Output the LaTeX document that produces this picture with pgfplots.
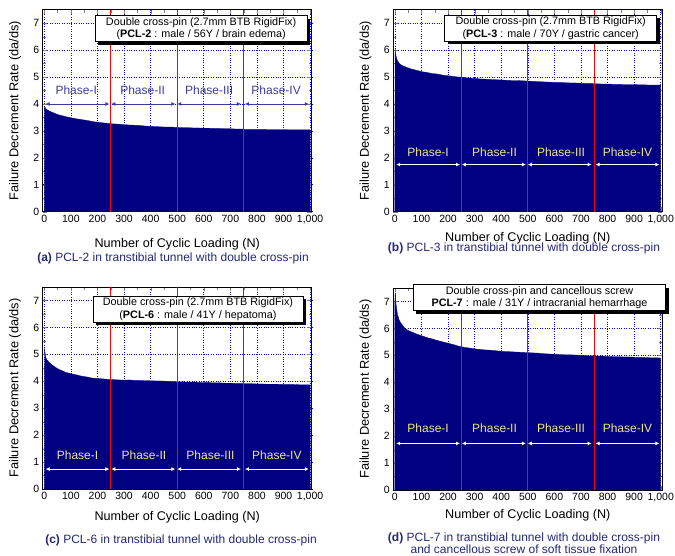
\documentclass[border=0pt]{standalone}
\usepackage{fontspec}
\setmainfont{Liberation Sans}
\usepackage{pgfplots}
\pgfplotsset{compat=1.18}
\usepackage{pgfplotstable}
\usetikzlibrary{arrows.meta,shadows}

\definecolor{fillnavy}{RGB}{0,0,128}
\definecolor{capblue}{RGB}{35,40,120}
\definecolor{phblue}{RGB}{60,60,150}
\definecolor{phyellow}{RGB}{240,230,140}

% x = cycle number, a..d = panels (a) to (d)
\pgfplotstableread{
x    a    b    c    d
0    3.92 2.80 2.30 7.00
1    3.92 6.05 5.22 7.30
2    3.90 5.95 5.15 7.25
3    3.87 5.87 5.05 7.05
4    3.85 5.80 4.98 6.92
5    3.83 5.75 4.92 6.85
7    3.81 5.68 4.85 6.70
10   3.79 5.60 4.79 6.50
13   3.77 5.56 4.77 6.42
16   3.76 5.51 4.73 6.31
20   3.73 5.48 4.69 6.24
25   3.71 5.44 4.64 6.16
30   3.69 5.42 4.60 6.10
35   3.67 5.39 4.57 6.03
40   3.65 5.38 4.53 5.99
45   3.63 5.35 4.50 5.95
50   3.61 5.34 4.47 5.93
60   3.58 5.30 4.42 5.88
70   3.56 5.28 4.38 5.84
80   3.53 5.25 4.33 5.80
90   3.51 5.23 4.31 5.76
100  3.49 5.20 4.28 5.73
120  3.45 5.17 4.24 5.66
140  3.42 5.13 4.19 5.61
160  3.39 5.11 4.16 5.55
180  3.35 5.07 4.12 5.50
200  3.32 5.05 4.10 5.45
220  3.30 5.02 4.09 5.40
240  3.28 5.00 4.07 5.34
260  3.26 4.98 4.06 5.30
280  3.25 4.96 4.05 5.27
300  3.23 4.95 4.04 5.24
320  3.22 4.93 4.05 5.22
340  3.21 4.92 4.03 5.20
360  3.20 4.91 4.03 5.19
380  3.18 4.90 4.02 5.17
400  3.17 4.89 4.02 5.15
420  3.16 4.88 4.01 5.14
440  3.15 4.87 4.01 5.13
460  3.14 4.87 4.00 5.12
480  3.14 4.86 3.99 5.11
500  3.13 4.85 3.98 5.10
520  3.12 4.84 3.98 5.09
540  3.12 4.83 3.97 5.08
560  3.11 4.82 3.97 5.06
580  3.11 4.81 3.96 5.05
600  3.10 4.80 3.95 5.04
620  3.10 4.80 3.95 5.03
640  3.09 4.79 3.94 5.02
660  3.09 4.78 3.94 5.02
680  3.08 4.78 3.93 5.01
700  3.08 4.77 3.93 5.00
720  3.07 4.76 3.92 4.99
740  3.07 4.76 3.92 4.98
748  3.07 4.75 3.92 4.98
750  2.90 4.75 3.91 4.97
752  3.06 4.75 3.91 4.97
760  3.06 4.75 3.91 4.97
780  3.06 4.74 3.91 4.97
800  3.06 4.74 3.90 4.96
820  3.06 4.73 3.90 4.95
840  3.05 4.73 3.89 4.95
860  3.05 4.72 3.89 4.94
880  3.05 4.72 3.89 4.94
900  3.05 4.72 3.88 4.93
920  3.04 4.71 3.88 4.92
940  3.04 4.71 3.88 4.92
960  3.04 4.70 3.87 4.91
980  3.04 4.70 3.87 4.91
1000 3.04 4.70 3.87 4.90
}\datatable

\pgfplotsset{
  panel/.style={
    scale only axis, width=269pt, height=202pt,
    xmin=-6, xmax=1006, ymin=0, ymax=7.5,
    xtick={0,100,...,1000}, ytick={0,1,...,7},
    minor x tick num=1, minor y tick num=1,
    tick align=inside,
    grid=major, grid style={blue, dotted, line width=0.6pt},
    axis line style={line width=0.9pt},
    tick label style={font=\fontsize{10.5}{12}\selectfont},
    /pgf/number format/assume math mode=true,
    /pgf/number format/1000 sep={,},
    xlabel={Number of Cyclic Loading (N)},
    ylabel={Failure Decrement Rate (da/ds)},
    ylabel style={font=\fontsize{12.8}{14}\selectfont, at={(axis description cs:-0.103,0.5)}, anchor=center},
    clip=false,
  },
  xlab/.style={xlabel style={font=\fontsize{12.6}{14}\selectfont, at={(axis description cs:0.5,#1)}, anchor=center}},
}
\tikzset{
  ph/.style={{Latex[length=4pt,width=4pt]}-{Latex[length=4pt,width=4pt]}, line width=0.9pt},
  phtext/.style={font=\fontsize{12}{14}\selectfont},
  infobox/.style={draw=black, fill=white, line width=0.8pt, align=center,
    inner sep=1pt, minimum height=26pt, font=\fontsize{10.8}{12.3}\selectfont,
    drop shadow={shadow xshift=3pt, shadow yshift=-3pt, fill=black, opacity=1}},
  caption/.style={text=capblue, font=\fontsize{12}{12}\selectfont, align=center},
}
% red phase boundaries as thin filled strips
\newcommand{\phaselines}{%
  \fill[red] (axis cs:248,0) rectangle (axis cs:252,7.5);
  \fill[red] (axis cs:498,0) rectangle (axis cs:502,7.5);
  \fill[red] (axis cs:748,0) rectangle (axis cs:752,7.5);
}

\begin{document}
\begin{tikzpicture}
\useasboundingbox (0pt,0pt) rectangle (675pt,555pt);

% (a)
\begin{axis}[panel, xlab=-0.163, at={(42.7pt,343.3pt)}, anchor=south west]
\addplot[fill=fillnavy, draw=fillnavy, line width=0.3pt] table[x=x, y=a] {\datatable} \closedcycle;
\phaselines
\draw[ph, phblue] (axis cs:5,4) -- (axis cs:245,4);
\draw[ph, phblue] (axis cs:252,4) -- (axis cs:493,4);
\draw[ph, phblue] (axis cs:500,4) -- (axis cs:740,4);
\draw[ph, phblue] (axis cs:755,4) -- (axis cs:995,4);
\node[phtext, text=phblue] at (axis cs:120,4.5) {Phase-I};
\node[phtext, text=phblue] at (axis cs:370,4.5) {Phase-II};
\node[phtext, text=phblue] at (axis cs:620,4.5) {Phase-III};
\node[phtext, text=phblue] at (axis cs:872,4.5) {Phase-IV};
\node[infobox, minimum width=212pt] at (axis cs:590,6.79)
  {Double cross-pin (2.7mm BTB RigidFix)\\(\textbf{PCL-2} : male / 56Y / brain edema)};
\end{axis}

% (b)
\begin{axis}[panel, xlab=-0.131, at={(393.3pt,343.3pt)}, anchor=south west]
\addplot[fill=fillnavy, draw=fillnavy, line width=0.3pt] table[x=x, y=b] {\datatable} \closedcycle;
\phaselines
\draw[ph, white] (axis cs:5,1.75) -- (axis cs:245,1.75);
\draw[ph, white] (axis cs:252,1.75) -- (axis cs:493,1.75);
\draw[ph, white] (axis cs:500,1.75) -- (axis cs:740,1.75);
\draw[ph, white] (axis cs:755,1.75) -- (axis cs:995,1.75);
\node[phtext, text=phyellow] at (axis cs:125,2.2) {Phase-I};
\node[phtext, text=phyellow] at (axis cs:375,2.2) {Phase-II};
\node[phtext, text=phyellow] at (axis cs:625,2.2) {Phase-III};
\node[phtext, text=phyellow] at (axis cs:875,2.2) {Phase-IV};
\node[infobox, minimum width=212pt] at (axis cs:586,6.81)
  {Double cross-pin (2.7mm BTB RigidFix)\\(\textbf{PCL-3} : male / 70Y / gastric cancer)};
\end{axis}

% (c)
\begin{axis}[panel, xlab=-0.139, at={(42.7pt,66pt)}, anchor=south west]
\addplot[fill=fillnavy, draw=fillnavy, line width=0.3pt] table[x=x, y=c] {\datatable} \closedcycle;
\phaselines
\draw[ph, white] (axis cs:5,0.74) -- (axis cs:245,0.74);
\draw[ph, white] (axis cs:252,0.74) -- (axis cs:493,0.74);
\draw[ph, white] (axis cs:500,0.74) -- (axis cs:740,0.74);
\draw[ph, white] (axis cs:755,0.74) -- (axis cs:995,0.74);
\node[phtext, text=phyellow] at (axis cs:125,1.26) {Phase-I};
\node[phtext, text=phyellow] at (axis cs:375,1.26) {Phase-II};
\node[phtext, text=phyellow] at (axis cs:625,1.26) {Phase-III};
\node[phtext, text=phyellow] at (axis cs:875,1.26) {Phase-IV};
\node[infobox, minimum width=210pt] at (axis cs:578,6.67)
  {Double cross-pin (2.7mm BTB RigidFix)\\(\textbf{PCL-6} : male / 41Y / hepatoma)};
\end{axis}

% (d)
\begin{axis}[panel, xlab=-0.124, at={(393.3pt,65pt)}, anchor=south west]
\addplot[fill=fillnavy, draw=fillnavy, line width=0.3pt] table[x=x, y=d] {\datatable} \closedcycle;
\phaselines
\draw[ph, white] (axis cs:5,1.73) -- (axis cs:245,1.73);
\draw[ph, white] (axis cs:252,1.73) -- (axis cs:493,1.73);
\draw[ph, white] (axis cs:500,1.73) -- (axis cs:740,1.73);
\draw[ph, white] (axis cs:755,1.73) -- (axis cs:995,1.73);
\node[phtext, text=phyellow] at (axis cs:125,2.28) {Phase-I};
\node[phtext, text=phyellow] at (axis cs:375,2.28) {Phase-II};
\node[phtext, text=phyellow] at (axis cs:625,2.28) {Phase-III};
\node[phtext, text=phyellow] at (axis cs:875,2.28) {Phase-IV};
\node[infobox, minimum width=252pt] at (axis cs:544,7.14)
  {Double cross-pin and cancellous screw\\\textbf{PCL-7} : male / 31Y / intracranial hemarrhage};
\end{axis}

\node[caption] at (173pt,297pt) {\textbf{(a)} PCL-2 in transtibial tunnel with double cross-pin};
\node[caption] at (524pt,306.5pt) {\textbf{(b)} PCL-3 in transtibial tunnel with double cross-pin};
\node[caption] at (181pt,15pt) {\textbf{(c)} PCL-6 in transtibial tunnel with double cross-pin};
\node[caption] at (524pt,12pt) {\textbf{(d)} PCL-7 in transtibial tunnel with double cross-pin\\and cancellous screw of soft tissue fixation};
\end{tikzpicture}
\end{document}
